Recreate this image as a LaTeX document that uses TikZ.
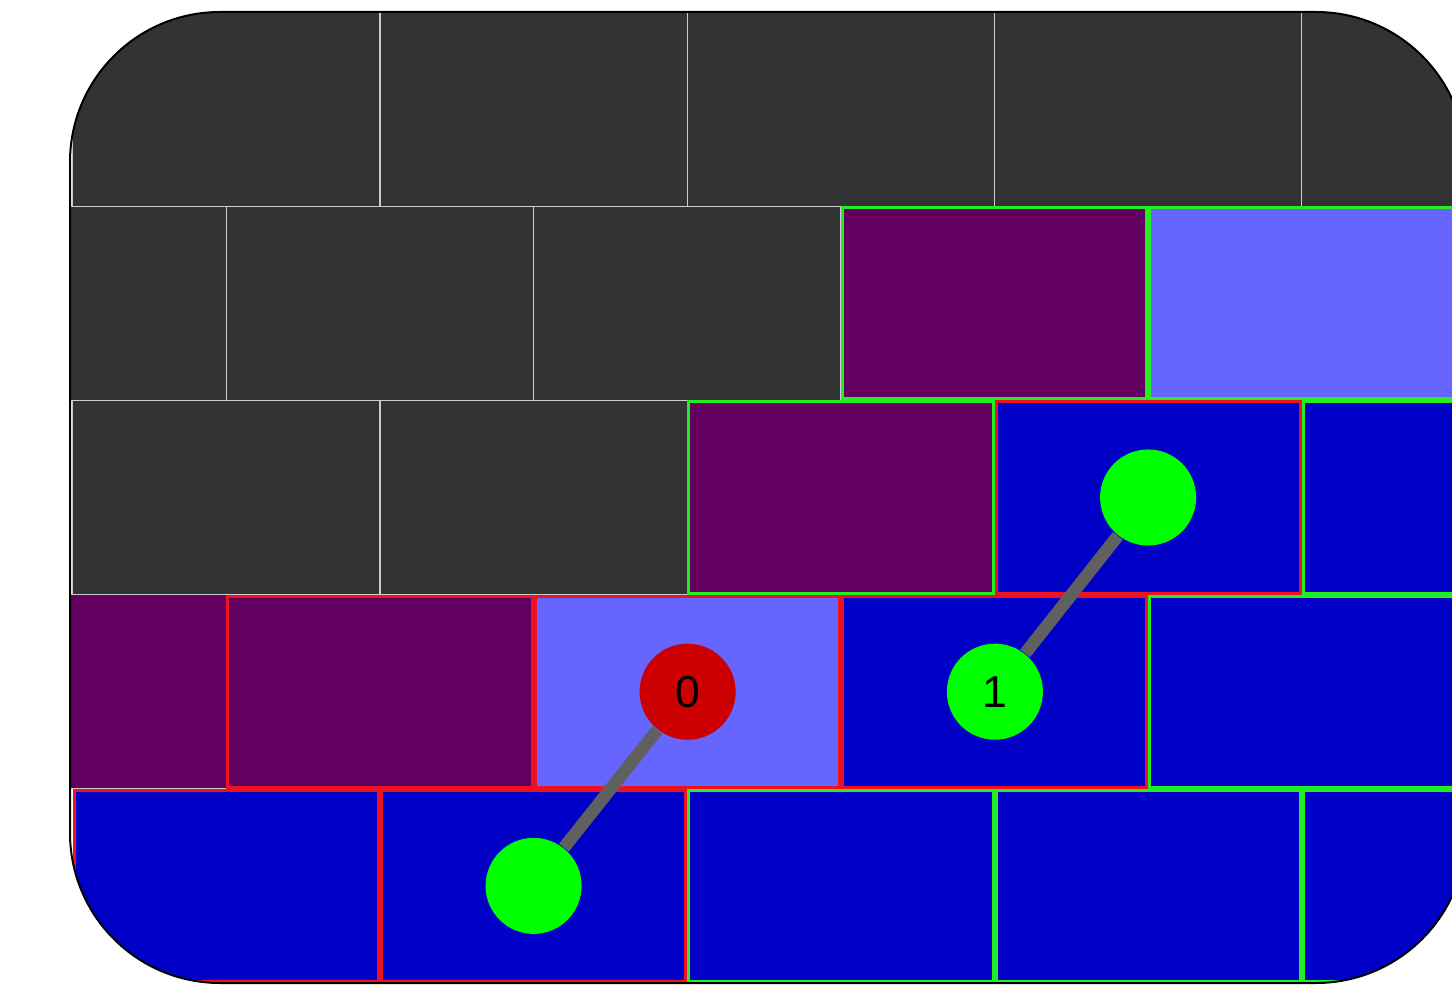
\documentclass[tikz,border=0pt]{standalone}
\usepackage{fontspec}
\setmainfont{Liberation Sans}
\definecolor{cellDark}{HTML}{333333}
\definecolor{cellPurple}{HTML}{620060}
\definecolor{cellLight}{HTML}{6666FF}
\definecolor{cellBlue}{HTML}{0000C6}
\definecolor{lineGray}{HTML}{CCCCCC}
\definecolor{lineRed}{HTML}{EE1122}
\definecolor{lineGreen}{HTML}{22EE22}
\definecolor{stoneRed}{HTML}{CC0000}
\definecolor{stoneGreen}{HTML}{00FF00}
\definecolor{bondGray}{HTML}{606060}

\begin{document}
\begin{tikzpicture}[x=0.01cm, y=-0.01cm, stone/.style={circle, minimum size=0.96cm, inner sep=0pt, font=\fontsize{12.7}{15}\selectfont}, bond/.style={draw=bondGray, line width=0.125cm}, thinedge/.style={draw=lineGray, line width=0.013cm}, markedge/.style={line width=0.03cm}]

\useasboundingbox (0,0) rectangle (1452,986);

\begin{scope}
\clip[rounded corners=1.5cm] (70,12) rectangle (1466,983);
% cell fills
\foreach \r/\k/\fc in {0/0/cellDark, 0/1/cellDark, 0/2/cellDark, 0/3/cellDark, 0/4/cellDark,
  1/0/cellDark, 1/1/cellDark, 1/2/cellDark, 1/3/cellPurple, 1/4/cellLight,
  2/0/cellDark, 2/1/cellDark, 2/2/cellPurple, 2/3/cellBlue, 2/4/cellBlue,
  3/0/cellPurple, 3/1/cellPurple, 3/2/cellLight, 3/3/cellBlue, 3/4/cellBlue,
  4/0/cellBlue, 4/1/cellBlue, 4/2/cellBlue, 4/3/cellBlue, 4/4/cellBlue}{
  \pgfmathsetmacro\xa{72.75+\k*307.25-mod(\r,2)*153.6}
  \pgfmathsetmacro\ya{12+\r*194.2}
  \fill[\fc] (\xa,\ya) rectangle ++(307.25,194.2);
}
% plain edges
\foreach \r/\k in {0/0, 0/1, 0/2, 0/3, 0/4, 1/0, 1/1, 1/2, 2/0, 2/1, 3/0}{
  \pgfmathsetmacro\xa{72.75+\k*307.25-mod(\r,2)*153.6}
  \pgfmathsetmacro\ya{12+\r*194.2}
  \draw[thinedge] (\xa,\ya) rectangle ++(307.25,194.2);
}
% marked edges
\foreach \r/\k/\bc in {1/3/lineGreen, 1/4/lineGreen, 2/2/lineGreen, 2/3/lineRed, 2/4/lineGreen,
  3/1/lineRed, 3/2/lineRed, 3/3/lineRed, 3/4/lineGreen,
  4/0/lineRed, 4/1/lineRed, 4/2/lineGreen, 4/3/lineGreen, 4/4/lineGreen}{
  \pgfmathsetmacro\xa{72.75+\k*307.25-mod(\r,2)*153.6}
  \pgfmathsetmacro\ya{12+\r*194.2}
  \draw[markedge, draw=\bc] (\xa+1.5,\ya+1.5) rectangle ++(304.25,191.2);
}
\end{scope}
\draw[line width=0.02cm, rounded corners=1.5cm] (70,12) rectangle (1466,983);

% stones
\node[stone, fill=stoneRed] (red0) at (687.6,691.7) {0};
\node[stone, fill=stoneGreen] (goal0) at (533.6,885.9) {};
\node[stone, fill=stoneGreen] (green1) at (994.9,691.7) {1};
\node[stone, fill=stoneGreen] (goal1) at (1148.1,497.5) {};

\draw[bond] (red0) -- (goal0);
\draw[bond] (green1) -- (goal1);
\end{tikzpicture}
\end{document}
